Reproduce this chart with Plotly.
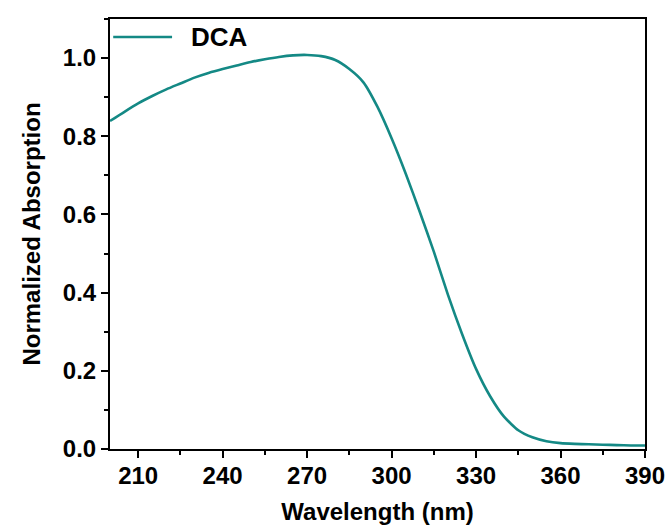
import plotly.graph_objects as go

wavelength = [200, 205, 210, 215, 220, 225, 230, 235, 240, 245, 250, 255, 260, 265,
              270, 275, 280, 285, 290, 295, 300, 305, 310, 315, 320, 325, 330, 335,
              340, 345, 350, 355, 360, 365, 370, 375, 380, 385, 390]
absorption = [0.839, 0.862, 0.884, 0.903, 0.920, 0.935, 0.950, 0.962, 0.972, 0.981,
              0.990, 0.997, 1.003, 1.007, 1.008, 1.005, 0.995, 0.972, 0.938, 0.875,
              0.795, 0.705, 0.607, 0.505, 0.395, 0.295, 0.205, 0.135, 0.082, 0.048,
              0.030, 0.020, 0.015, 0.013, 0.012, 0.011, 0.010, 0.009, 0.009]
series_name = "DCA"
x_ticks = [210, 240, 270, 300, 330, 360, 390]
y_ticks = [0.0, 0.2, 0.4, 0.6, 0.8, 1.0]

color = "#148985"
font_bold = "Liberation Sans"

fig = go.Figure()
fig.add_trace(go.Scatter(x=wavelength, y=absorption, mode="lines", name=series_name,
                         line=dict(color=color, width=2.6, shape="spline", smoothing=0.6),
                         showlegend=False))

# legend sample drawn manually (long line like the original)
fig.add_shape(type="line", xref="paper", yref="paper", x0=0.006, x1=0.116,
              y0=0.958, y1=0.958, line=dict(color=color, width=2.6))
fig.add_annotation(xref="paper", yref="paper", x=0.148, y=0.958, text="<b>" + series_name + "</b>",
                   showarrow=False, xanchor="left", yanchor="middle",
                   font=dict(family=font_bold, size=26, color="black"))

axis_common = dict(showline=True, linecolor="black", linewidth=2, mirror=True,
                   ticks="outside", ticklen=7, tickwidth=2, tickcolor="black",
                   showgrid=False, zeroline=False, automargin=False,
                   tickfont=dict(family=font_bold, size=24, color="black"))

fig.update_xaxes(range=[200, 390], tickvals=x_ticks, ticktext=["<b>%d</b>" % v for v in x_ticks],
                 ticklabelstandoff=-3,
                 minor=dict(dtick=15, tick0=195, ticks="outside", ticklen=4, tickwidth=2, tickcolor="black"),
                 title=dict(text="<b>Wavelength (nm)</b>",
                            font=dict(family=font_bold, size=24, color="black")),
                 **axis_common)
fig.update_yaxes(range=[0, 1.1], tickvals=y_ticks, ticktext=["<b>%.1f</b>" % v for v in y_ticks],
                 minor=dict(dtick=0.1, tick0=0, ticks="outside", ticklen=4, tickwidth=2, tickcolor="black"),
                 title=dict(text="<b>Normalized Absorption</b>",
                            font=dict(family=font_bold, size=24, color="black")),
                 **axis_common)

fig.update_layout(width=670, height=529, margin=dict(l=110, r=25, t=19, b=80),
                  paper_bgcolor="white", plot_bgcolor="white", showlegend=False)

fig.write_html("out.html")
